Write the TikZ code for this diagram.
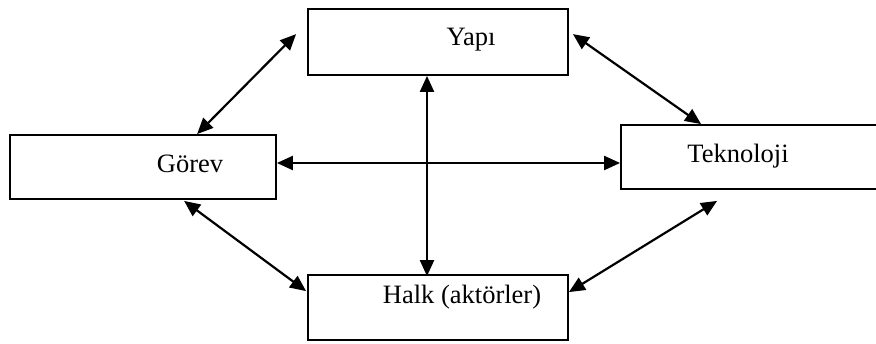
\documentclass[tikz,border=0pt]{standalone}
\usepackage{fontspec}
\setmainfont{Liberation Serif}
\usetikzlibrary{arrows.meta}
\begin{document}
\begin{tikzpicture}[x=1pt,y=-1pt,
  box/.style={draw,line width=1.8pt,rectangle,inner sep=0pt},
  lbl/.style={anchor=base,inner sep=0pt,font=\fontsize{26.5}{30}\selectfont},
  arr/.style={line width=2.2pt,{Triangle[length=16pt,width=14pt]}-{Triangle[length=16pt,width=14pt]}}]
\useasboundingbox (0,0) rectangle (876,343);
\node[box,minimum width=260pt,minimum height=66pt] (yapi) at (438,42) {};
\node[box,minimum width=266pt,minimum height=64pt] (gorev) at (143,167) {};
\node[box,minimum width=256pt,minimum height=64pt] (tekno) at (749,157) {};
\node[box,minimum width=260pt,minimum height=65pt] (halk) at (438,307.5) {};
\node[lbl] (tyapi) at (471,45) {Yapı};
\node[lbl] (tgorev) at (190,172) {Görev};
\node[lbl] (ttekno) at (738,162) {Teknoloji};
\node[lbl] (thalk) at (462,303) {Halk (aktörler)};
\draw[arr] ([xshift=-11pt,yshift=-26pt]yapi.north west) -- ([xshift=188pt]gorev.north west);
\draw[arr] ([xshift=4pt,yshift=-26pt]yapi.north east) -- ([xshift=81pt]tekno.north west);
\draw[arr] ([yshift=4pt]gorev.east) -- ([yshift=-6pt]tekno.west);
\draw[arr] ([xshift=-11pt]yapi.south) -- ([xshift=-11pt,yshift=-2pt]halk.north);
\draw[arr] ([xshift=175pt,yshift=-1pt]gorev.south west) -- ([xshift=-1pt,yshift=-17pt]halk.north west);
\draw[arr] ([yshift=-18pt]halk.north east) -- ([xshift=97pt,yshift=-11pt]tekno.south west);
\end{tikzpicture}
\end{document}
